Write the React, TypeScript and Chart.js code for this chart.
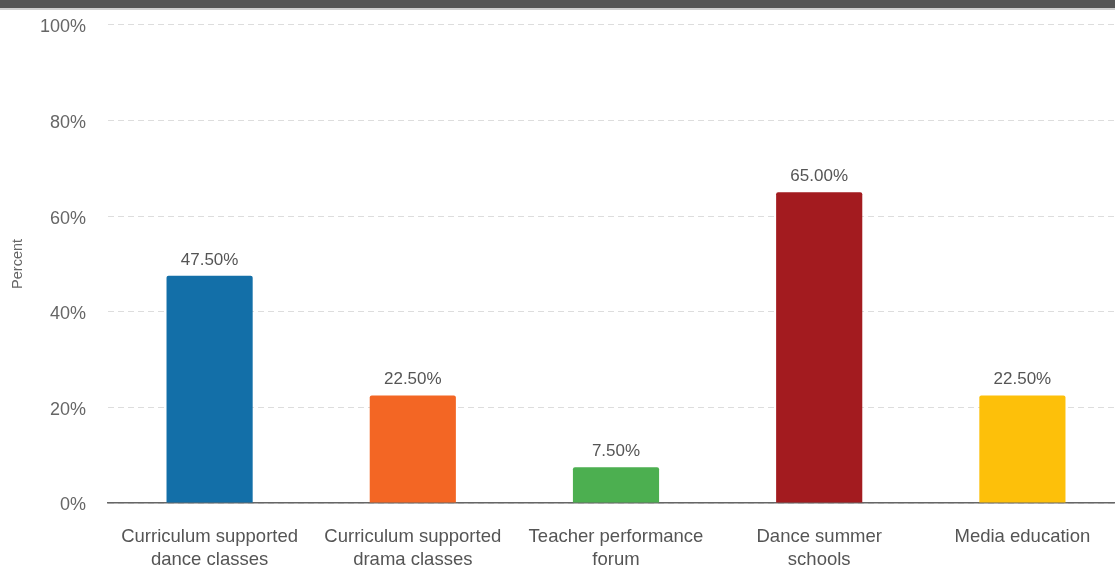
import React, { useEffect, useRef } from "react";
import { Chart, registerables } from "chart.js";

Chart.register(...registerables);

const categories: (string | string[])[] = [
  ["Curriculum supported", "dance classes"],
  ["Curriculum supported", "drama classes"],
  ["Teacher performance", "forum"],
  ["Dance summer", "schools"],
  "Media education",
];
const values: number[] = [47.5, 22.5, 7.5, 65.0, 22.5];
const barColors: string[] = ["#136fa8", "#f36624", "#4caf50", "#a31b1f", "#fdc00a"];
const yTicks: number[] = [0, 20, 40, 60, 80, 100];

const FONT = "'Liberation Sans', Arial, Helvetica, sans-serif";

const valueLabels = {
  id: "valueLabels",
  afterDatasetsDraw(chart: any) {
    const ctx = chart.ctx;
    const meta = chart.getDatasetMeta(0);
    ctx.save();
    ctx.font = `17px ${FONT}`;
    ctx.fillStyle = "#555555";
    ctx.textAlign = "center";
    ctx.textBaseline = "bottom";
    meta.data.forEach((bar: any, i: number) => {
      ctx.fillText(values[i].toFixed(2) + "%", bar.x, bar.y - 7.5);
    });
    ctx.restore();
  },
};

export default function App() {
  const ref = useRef<HTMLCanvasElement | null>(null);
  useEffect(() => {
    if (!ref.current) return;
    const chart = new Chart(ref.current, {
      type: "bar",
      data: {
        labels: categories as any,
        datasets: [
          {
            data: values,
            backgroundColor: barColors,
            borderRadius: 2,
            borderSkipped: "bottom",
            barPercentage: 0.424,
            categoryPercentage: 1,
          },
        ],
      },
      options: {
        responsive: false,
        animation: false,
        maintainAspectRatio: false,
        layout: { padding: { top: 14, right: 0, left: 0, bottom: 0 } },
        plugins: {
          legend: { display: false },
          tooltip: { enabled: false },
        },
        scales: {
          x: {
            grid: { display: false, drawTicks: false },
            border: { display: true, color: "#666666", width: 1.5 },
            ticks: {
              color: "#555555",
              font: { family: FONT, size: 18.5, lineHeight: 1.243 },
              padding: 22,
              maxRotation: 0,
              autoSkip: false,
            },
            afterFit(scale: any) {
              scale.height = 65;
            },
          },
          y: {
            min: 0,
            max: 100,
            afterBuildTicks(scale: any) {
              scale.ticks = yTicks.map((v) => ({ value: v }));
            },
            grid: {
              color: "#dddddd",
              lineWidth: 1,
              drawTicks: false,
            },
            border: { display: false, dash: [6, 4] },
            ticks: {
              color: "#666666",
              font: { family: FONT, size: 18 },
              padding: 22,
              labelOffset: 2.5,
              callback: (v: any) => v + "%",
            },
            title: {
              display: true,
              text: "Percent",
              color: "#666666",
              font: { family: FONT, size: 14.5 },
              padding: { top: 9, bottom: 0 },
            },
            afterFit(scale: any) {
              scale.width = 108;
            },
          },
        },
      },
      plugins: [valueLabels],
    });
    return () => chart.destroy();
  }, []);

  return (
    <div
      style={{
        position: "fixed",
        left: 0,
        top: 0,
        width: 1115,
        height: 568,
        overflow: "hidden",
        background: "#ffffff",
      }}
    >
      <canvas
        ref={ref}
        width={1124}
        height={576}
        style={{ display: "block", position: "absolute", left: 0, top: -8 }}
      />
      <div style={{ position: "absolute", left: 0, top: 0, width: 1115, height: 8, background: "#555555" }} />
      <div style={{ position: "absolute", left: 0, top: 8, width: 1115, height: 2, background: "#cfcfcf" }} />
    </div>
  );
}
